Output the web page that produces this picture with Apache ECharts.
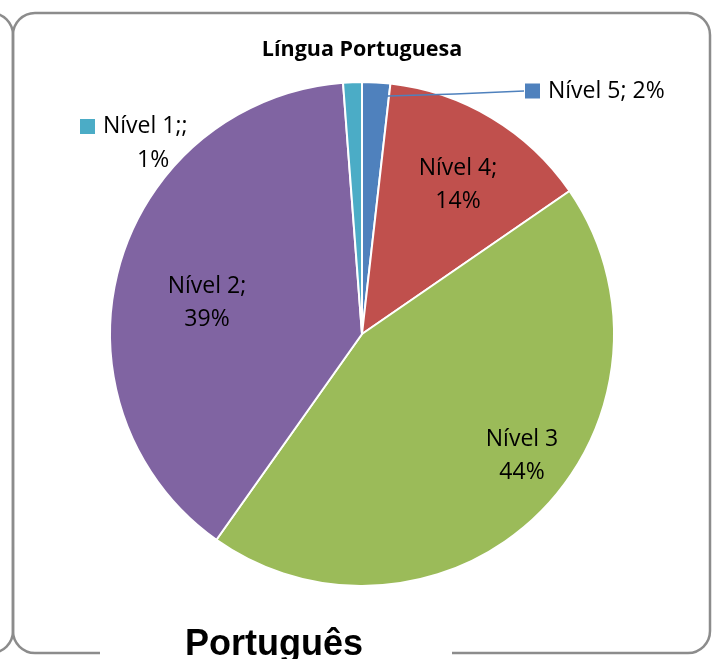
<!DOCTYPE html>
<html>
<head>
<meta charset="utf-8">
<script src="https://cdn.jsdelivr.net/npm/echarts@6/dist/echarts.min.js"></script>
<style>
  html, body { margin: 0; padding: 0; background: #fff; }
  #chart { width: 716px; height: 659px; }
</style>
</head>
<body>
<div id="chart"></div>
<script>
// slices, clockwise from 12 o'clock
const categories = ['Nível 5', 'Nível 4', 'Nível 3', 'Nível 2', 'Nível 1']
const values = [1.8, 13.6, 44.4, 39.0, 1.2]
const separators = [';', ';', '', ';', ';;']
const colors = ['#4F81BD', '#C0504D', '#9BBB59', '#8064A2', '#4BACC6']

const chartTitle = 'Língua Portuguesa'
const boxCaption = 'Português'

// where the labels sit on the page (Excel placed them by hand)
const labelSpots = [
  { x: 525, y: 91, align: 'left' },
  { x: 458, y: 185, align: 'center' },
  { x: 522, y: 456, align: 'center' },
  { x: 207, y: 303, align: 'center' },
  { x: 80, y: 144, align: 'left' }
]

const font = '"Open Sans", "Noto Sans", sans-serif'
const frameColor = '#8c8c8c'

function labelText (p) {
  const i = p.dataIndex
  const name = categories[i] + separators[i]
  if (i === 0) return '{sq0|}{gap|}{t|' + name + ' ' + p.percent + '%}'
  if (i === 4) return '{sq4|}{gap|}{t|' + name + '}\n{t2|' + p.percent + '%}'
  return '{t|' + name + '}\n{t|' + p.percent + '%}'
}

const el = document.getElementById('chart')
const myChart = echarts.init(el)

const option = {
  animation: false,
  backgroundColor: '#fff',
  graphic: [
    // right edge of the neighbouring box
    {
      type: 'rect', z: 1,
      shape: { x: -300, y: 13, width: 313, height: 640, r: 22 },
      style: { fill: 'none', stroke: frameColor, lineWidth: 2.5 }
    },
    {
      type: 'rect', z: 1,
      shape: { x: 13, y: 13, width: 697, height: 640, r: 22 },
      style: { fill: 'none', stroke: frameColor, lineWidth: 2.5 }
    },
    {
      type: 'rect', z: 2,
      shape: { x: 100, y: 640, width: 352, height: 19 },
      style: { fill: '#fff' }
    },
    {
      type: 'text', z: 3, x: 274, y: 645,
      style: {
        text: boxCaption, align: 'center', verticalAlign: 'middle',
        font: 'bold 36px "Liberation Sans", Arial, sans-serif', fill: '#000'
      }
    },
    {
      type: 'text', z: 3, x: 362, y: 50,
      style: {
        text: chartTitle, align: 'center', verticalAlign: 'middle',
        font: 'bold 21.5px ' + font, fill: '#000'
      }
    }
  ],
  series: [{
    type: 'pie',
    center: [362, 334],
    radius: 252,
    startAngle: 90,
    clockwise: true,
    avoidLabelOverlap: false,
    percentPrecision: 0,
    itemStyle: { borderColor: '#fff', borderWidth: 2 },
    label: {
      formatter: labelText,
      color: '#000',
      fontFamily: font,
      fontSize: 23,
      lineHeight: 33,
      rich: {
        t: { fontFamily: font, fontSize: 23, lineHeight: 33, color: '#000' },
        t2: { fontFamily: font, fontSize: 23, lineHeight: 35, color: '#000', padding: [0, 0, 0, 57] },
        gap: { width: 8 },
        sq0: { width: 15, height: 15, backgroundColor: colors[0] },
        sq4: { width: 15, height: 15, backgroundColor: colors[4] }
      }
    },
    labelLine: { show: false, showAbove: true },
    labelLayout: function (p) {
      const s = labelSpots[p.dataIndex]
      const out = { x: s.x, y: s.y, align: s.align, verticalAlign: 'middle' }
      if (p.dataIndex === 0) out.labelLinePoints = [[388, 96], [455, 94], [524, 91]]
      return out
    },
    data: categories.map((name, i) => ({
      name: name,
      value: values[i],
      itemStyle: { color: colors[i] },
      label: i === 0 || i === 4 ? { position: 'outside' } : { position: 'inside' },
      labelLine: i === 0
        ? { show: true, showAbove: true, length: 20, length2: 20, lineStyle: { color: colors[0], width: 1.5 } }
        : { show: false }
    }))
  }]
}

myChart.setOption(option)

// the Nível 5 leader line starts inside its slice, keep it on top
myChart.getZr().storage.getDisplayList(true).forEach(d => {
  if (d.type === 'polyline') {
    d.z2 = 1000
    d.markRedraw()
  }
})
myChart.getZr().refreshImmediately()
</script>
</body>
</html>
